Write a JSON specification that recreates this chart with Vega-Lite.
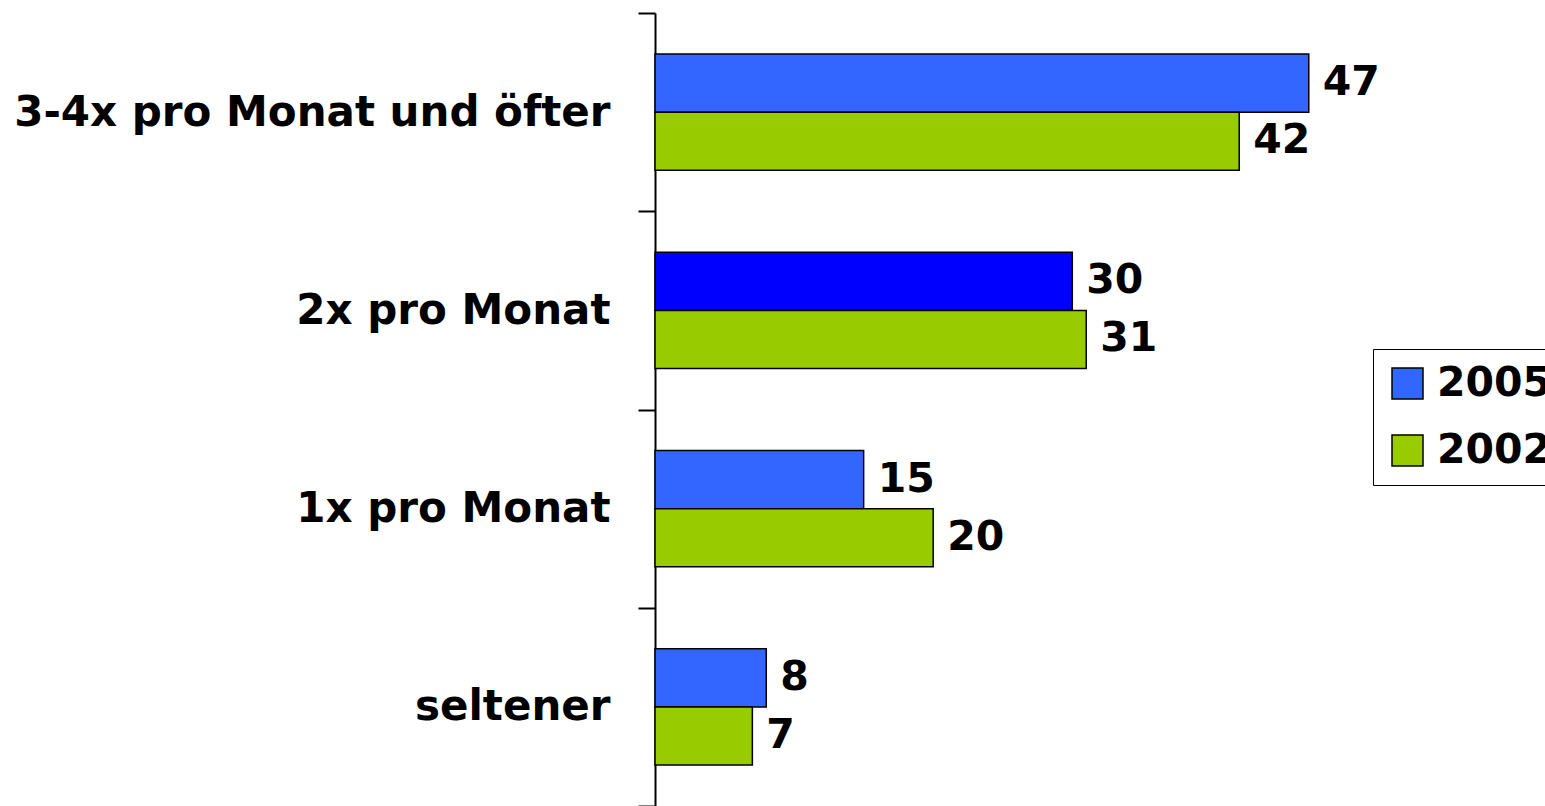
{
  "$schema": "https://vega.github.io/schema/vega-lite/v6.json",
  "width": 695.5,
  "height": 793,
  "autosize": {"type": "none"},
  "padding": {"left": 655, "top": 13, "right": 194.5, "bottom": 0},
  "background": "white",
  "config": {"view": {"stroke": null}, "font": "DejaVu Sans"},
  "data": {
    "values": [
      {"cat": "3-4x pro Monat und öfter", "year": "2005", "value": 47},
      {"cat": "3-4x pro Monat und öfter", "year": "2002", "value": 42},
      {"cat": "2x pro Monat", "year": "2005", "value": 30},
      {"cat": "2x pro Monat", "year": "2002", "value": 31},
      {"cat": "1x pro Monat", "year": "2005", "value": 15},
      {"cat": "1x pro Monat", "year": "2002", "value": 20},
      {"cat": "seltener", "year": "2005", "value": 8},
      {"cat": "seltener", "year": "2002", "value": 7}
    ]
  },
  "encoding": {
    "y": {
      "field": "cat",
      "type": "nominal",
      "sort": ["3-4x pro Monat und öfter", "2x pro Monat", "1x pro Monat", "seltener"],
      "scale": {"paddingInner": 0, "paddingOuter": 0},
      "axis": {
        "title": null,
        "labelFont": "DejaVu Sans",
        "labelFontSize": 42,
        "labelFontWeight": "bold",
        "labelColor": "black",
        "labelPadding": 28,
        "labelLimit": 1000,
        "domainColor": "black",
        "domainWidth": 2,
        "tickColor": "black",
        "tickWidth": 2,
        "tickSize": 17,
        "tickBand": "extent"
      }
    },
    "yOffset": {
      "field": "year",
      "type": "nominal",
      "sort": ["2005", "2002"],
      "scale": {"paddingInner": 0, "paddingOuter": 0.709}
    },
    "x": {
      "field": "value",
      "type": "quantitative",
      "scale": {"domain": [0, 50]},
      "axis": null
    }
  },
  "layer": [
    {
      "mark": {"type": "bar", "stroke": "black", "strokeWidth": 1.5},
      "encoding": {
        "color": {
          "condition": {"test": "datum.cat === '2x pro Monat' && datum.year === '2005'", "value": "#0000FF"},
          "field": "year",
          "type": "nominal",
          "sort": ["2005", "2002"],
          "scale": {"domain": ["2005", "2002"], "range": ["#3366FF", "#99CC00"]},
          "legend": {
            "title": null,
            "orient": "none",
            "legendX": 718,
            "legendY": 336,
            "symbolType": "square",
            "symbolSize": 961,
            "symbolStrokeColor": "black",
            "symbolStrokeWidth": 1.5,
            "symbolOpacity": 1,
            "labelFont": "DejaVu Sans",
            "labelFontSize": 41,
            "labelFontWeight": "bold",
            "labelColor": "black",
            "labelOffset": 9,
            "labelLimit": 500,
            "strokeColor": "black",
            "fillColor": "white",
            "padding": 14,
            "rowPadding": 25
          }
        }
      }
    },
    {
      "mark": {
        "type": "text",
        "align": "left",
        "baseline": "middle",
        "dx": 14,
        "font": "DejaVu Sans",
        "fontSize": 41,
        "fontWeight": "bold",
        "color": "black"
      },
      "encoding": {"text": {"field": "value", "type": "quantitative"}}
    }
  ]
}
